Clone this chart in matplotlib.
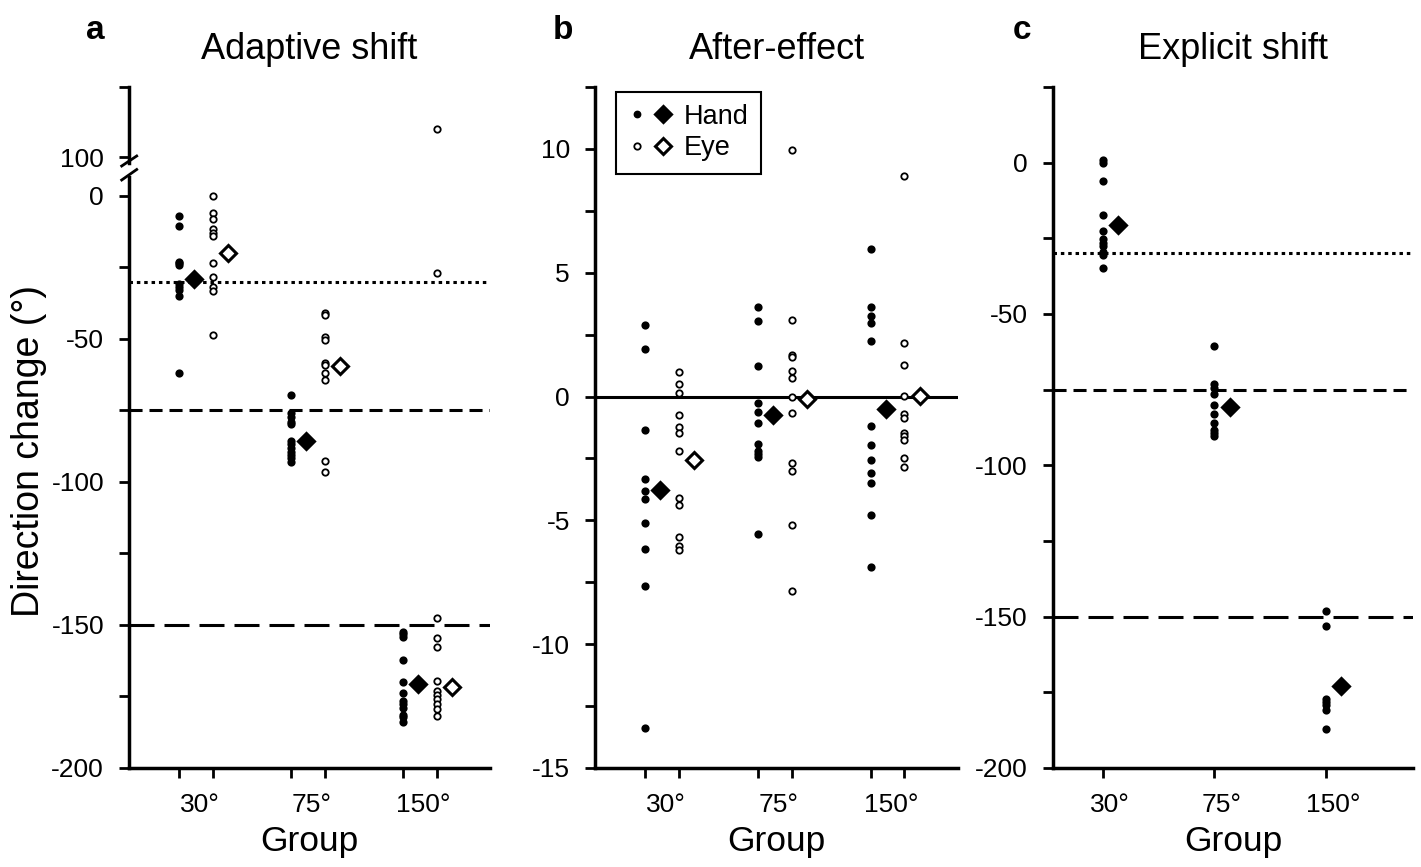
import numpy as np
import matplotlib.pyplot as plt
from matplotlib.lines import Line2D
from matplotlib.legend_handler import HandlerTuple

plt.rcParams['font.family'] = ['Liberation Sans', 'DejaVu Sans']
plt.rcParams['axes.unicode_minus'] = False
plt.rcParams['lines.scale_dashes'] = False

groups = ['30°', '75°', '150°']

# a: adaptive shift (deg), one list per group
a_hand = [[-6.9, -10.4, -23.0, -23.5, -24.1, -30.8, -31.9, -32.9, -35.0, -62.0],
          [-69.6, -76.0, -77.4, -78.9, -79.8, -85.7, -86.8, -88.2, -89.4, -90.6, -91.7, -92.9],
          [-152.3, -153.1, -154.3, -162.2, -170.0, -173.9, -176.5, -177.6, -179.1, -181.5, -182.3, -183.8]]
a_eye = [[0.0, -5.8, -7.9, -11.5, -12.8, -13.9, -23.5, -28.4, -31.9, -33.1, -48.7],
         [-41.0, -41.5, -49.2, -50.3, -58.3, -59.0, -61.8, -64.5, -92.7, -96.4],
         [110.0, -27.0, -147.7, -154.4, -157.6, -169.5, -173.0, -174.5, -176.0, -177.6, -179.5, -181.7]]
a_hand_mean = [-28.9, -85.7, -170.6]
a_eye_mean = [-20.0, -59.4, -171.6]

# b: after-effect (deg)
b_hand = [[2.9, 1.9, -1.35, -3.35, -3.8, -4.15, -5.1, -6.15, -7.65, -13.4],
          [3.62, 3.05, 1.24, -0.27, -0.63, -1.07, -1.92, -2.21, -2.32, -2.46, -5.56],
          [5.94, 3.62, 3.24, 2.97, 2.23, -1.2, -1.96, -2.58, -3.09, -3.48, -4.8, -6.88]]
b_eye = [[0.98, 0.51, 0.15, -0.75, -1.25, -1.47, -2.19, -4.1, -4.4, -5.67, -6.03, -6.19],
         [9.96, 3.1, 1.66, 1.59, 1.05, 0.74, -0.03, -0.68, -2.7, -3.0, -5.19, -7.85],
         [8.91, 2.17, 1.28, 0.01, -0.72, -0.88, -1.49, -1.61, -1.75, -2.48, -2.83]]
b_hand_mean = [-3.78, -0.74, -0.5]
b_eye_mean = [-2.55, -0.09, 0.04]

# c: explicit shift (deg), hand only
c_hand = [[1.0, -0.1, -6.2, -17.2, -22.7, -25.2, -26.6, -27.4, -29.4, -30.5, -34.7],
          [-60.6, -73.3, -74.6, -76.3, -80.1, -82.9, -86.0, -88.2, -89.2, -90.4],
          [-148.2, -153.1, -177.1, -178.1, -179.2, -180.9, -187.2]]
c_hand_mean = [-20.7, -80.7, -172.8]

rotations = [-30, -75, -150]

eye_dx = 0.3   # eye column offset from hand column
mean_dx = 0.135  # mean diamond offset from its column
xlim = (-0.446, 2.777)


def dots(ax, vals, x, filled):
    ax.plot(np.full(len(vals), x), vals, 'o', ls='none', ms=4.6, mew=1.3,
            mfc='k' if filled else 'w', mec='k', zorder=3)


def diamond(ax, val, x, filled):
    ax.plot([x], [val], 'D', ls='none', ms=7.8, mew=2.2,
            mfc='k' if filled else 'w', mec='k', zorder=4)


def style(ax):
    for s in ['top', 'right']:
        ax.spines[s].set_visible(False)
    for s in ['left', 'bottom']:
        ax.spines[s].set_linewidth(2.5)
    ax.tick_params(which='both', direction='out', length=7, width=2, labelsize=19)
    ax.tick_params(axis='y', which='both', pad=11)
    ax.set_xlim(*xlim)


def rot_lines(ax):
    ax.axhline(rotations[0], color='k', lw=2.2, ls=(0, (2.5, 2.8)), zorder=1)
    ax.axhline(rotations[1], color='k', lw=2.2, ls=(0, (9.4, 5.0)), zorder=1)
    ax.axhline(rotations[2], color='k', lw=2.2, ls=(0, (18, 7.2)), zorder=1)


def group_ticks(ax, both_cols, label_dx):
    k = np.arange(3)
    if both_cols:
        ax.set_xticks(np.sort(np.concatenate([k, k + eye_dx])))
    else:
        ax.set_xticks(k)
    ax.set_xticklabels([])
    ax.set_xticks(k + label_dx, minor=True)
    ax.set_xticklabels(groups, minor=True)
    ax.tick_params(axis='x', which='minor', length=0, pad=18)
    ax.set_xlabel('Group', fontsize=25.5, labelpad=6)


fig = plt.figure(figsize=(14.21, 8.67), dpi=100)

axa_top = fig.add_axes([0.0908, 0.812, 0.254, 0.0877])
axa = fig.add_axes([0.0908, 0.1142, 0.254, 0.6816])
axb = fig.add_axes([0.4187, 0.1142, 0.2555, 0.7855])
axc = fig.add_axes([0.741, 0.1142, 0.2533, 0.7855])

# panel a, both halves of the broken axis
for ax in [axa_top, axa]:
    style(ax)
    for i in range(3):
        dots(ax, a_hand[i], i, True)
        dots(ax, a_eye[i], i + eye_dx, False)
        diamond(ax, a_hand_mean[i], i + mean_dx, True)
        diamond(ax, a_eye_mean[i], i + eye_dx + mean_dx, False)

axa_top.set_ylim(97.9, 125)
axa_top.set_yticks([100, 125])
axa_top.set_yticklabels(['100', ''])
axa_top.spines['bottom'].set_visible(False)
axa_top.set_xticks([])
axa_top.set_title('Adaptive shift', fontsize=26, pad=20)

axa.set_ylim(-200, 6.6)
axa.set_yticks([-200, -150, -100, -50, 0])
axa.set_yticks([-175, -125, -75, -25], minor=True)
rot_lines(axa)
group_ticks(axa, True, 0.185)

# break marks on the y axis of panel a
W, H = 1421.0, 867.0
for y0, y1 in [(166, 156), (180, 169.5)]:
    fig.add_artist(Line2D([121.7 / W, 136.7 / W], [1 - y0 / H, 1 - y1 / H],
                          color='k', lw=2, transform=fig.transFigure))

# panel b
style(axb)
for i in range(3):
    dots(axb, b_hand[i], i, True)
    dots(axb, b_eye[i], i + eye_dx, False)
    diamond(axb, b_hand_mean[i], i + mean_dx, True)
    diamond(axb, b_eye_mean[i], i + eye_dx + mean_dx, False)
axb.axhline(0, color='k', lw=2.2, zorder=1)
axb.set_ylim(-15, 12.5)
axb.set_yticks([-15, -10, -5, 0, 5, 10])
axb.set_yticks([-12.5, -7.5, -2.5, 2.5, 7.5, 12.5], minor=True)
group_ticks(axb, True, 0.185)
axb.set_title('After-effect', fontsize=26, pad=20)

h_hand = (Line2D([], [], marker='o', ls='none', ms=4.6, mfc='k', mec='k'),
          Line2D([], [], marker='D', ls='none', ms=7.8, mfc='k', mec='k', mew=2.2))
h_eye = (Line2D([], [], marker='o', ls='none', ms=4.6, mfc='w', mec='k', mew=1.3),
         Line2D([], [], marker='D', ls='none', ms=7.8, mfc='w', mec='k', mew=2.2))
leg = axb.legend([h_hand, h_eye], ['Hand', 'Eye'],
                 handler_map={tuple: HandlerTuple(ndivide=None, pad=0.3)},
                 loc='upper left', bbox_to_anchor=(0.058, 0.993), borderaxespad=0,
                 fontsize=19.5, fancybox=False, edgecolor='k', framealpha=1,
                 handlelength=1.6, handletextpad=0.45, labelspacing=0.2, borderpad=0.45)
leg.get_frame().set_linewidth(1.5)

# panel c
style(axc)
for i in range(3):
    dots(axc, c_hand[i], i, True)
    diamond(axc, c_hand_mean[i], i + mean_dx, True)
rot_lines(axc)
axc.set_ylim(-200, 25)
axc.set_yticks([-200, -150, -100, -50, 0])
axc.set_yticks([-175, -125, -75, -25, 25], minor=True)
group_ticks(axc, False, 0.06)
axc.set_title('Explicit shift', fontsize=26, pad=20)

fig.text(29 / W, 1 - 451 / H, 'Direction change (°)', fontsize=27, rotation=90,
         ha='center', va='center')
for letter, xpos in [('a', 95), ('b', 563), ('c', 1022)]:
    fig.text(xpos / W, 1 - 39 / H, letter, fontsize=24, weight='bold',
             ha='center', va='baseline')

fig.savefig('out.png', dpi=100)
